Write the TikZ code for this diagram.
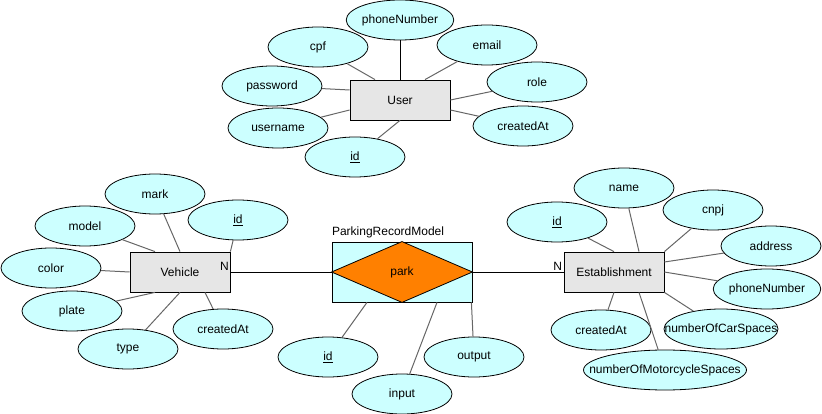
\documentclass[tikz,border=0pt]{standalone}
\usepackage{fontspec}
\setmainfont{Liberation Sans}
\usetikzlibrary{shapes.geometric}

\definecolor{attrfill}{HTML}{CCFFFF}
\definecolor{entfill}{HTML}{E6E6E6}
\definecolor{relfill}{HTML}{FF8000}
\definecolor{linkgray}{HTML}{666666}

\tikzset{
  attr/.style={ellipse, draw, fill=attrfill, minimum width=100pt, minimum height=40pt, inner sep=0pt},
  entity/.style={rectangle, draw, fill=entfill, minimum width=100pt, minimum height=40pt},
  link/.style={draw=linkgray, line width=1pt}
}

\begin{document}
\begin{tikzpicture}[x=1pt, y=-1pt, line width=0.8pt, font=\fontsize{12}{14}\selectfont]
                \useasboundingbox (0,0) rectangle (822,414);

                % User and its attributes
                \node[entity] (user) at (400,100) {User};
                \node[attr] (upn) at (400,20) {phoneNumber};
                \node[attr] (ucpf) at (318,47) {cpf};
                \node[attr] (uemail) at (487,45) {email};
                \node[attr] (upass) at (272,86) {password};
                \node[attr] (urole) at (537,82) {role};
                \node[attr] (uname) at (278,128) {username};
                \node[attr] (ucreated) at (523,126) {createdAt};
                \node[attr] (uid) at (355,157) {\underline{id}};

                \draw[line width=1pt] (upn) -- (user.north);
                \draw[link] (ucpf) -- ([xshift=-25pt]user.north);
                \draw[link] (uemail) -- ([xshift=25pt]user.north);
                \draw[link] (upass) -- ([yshift=10pt]user.west);
                \draw[link] (uname) -- ([yshift=-10pt]user.west);
                \draw[link] (uid) -- (user.south);
                \draw[link] (urole) -- (user.east);
                \draw[link] (ucreated) -- ([yshift=-10pt]user.east);

                % Vehicle and its attributes
                \node[entity] (veh) at (180,272) {Vehicle};
                \node[attr] (vmark) at (155,194) {mark};
                \node[attr] (vmodel) at (85,226) {model};
                \node[attr] (vid) at (238,220) {\underline{id}};
                \node[attr] (vcolor) at (51,268) {color};
                \node[attr] (vplate) at (72,311) {plate};
                \node[attr] (vtype) at (128,349) {type};
                \node[attr] (vcreated) at (223,329) {createdAt};

                \draw[link] (vmark) -- (veh.north);
                \draw[link] (vmodel) -- ([xshift=-25pt]veh.north);
                \draw[link] (vid) -- (veh.north east);
                \draw[link] (vcolor) -- (veh.west);
                \draw[link] (vplate) -- ([xshift=-25pt]veh.south);
                \draw[link] (vtype) -- (veh.south);
                \draw[link] (vcreated) -- ([xshift=25pt]veh.south);

                % Relationship park
                \node[draw, fill=attrfill, minimum width=140pt, minimum height=60pt] (prm) at (402,272) {};
                \draw[fill=relfill] (prm.west) -- (prm.north) -- (prm.east) -- (prm.south) -- cycle;
                \node (park) at (prm.center) {park};
                \node[anchor=south west, inner sep=0pt] (prmlabel) at ([yshift=3pt]prm.north west) {ParkingRecordModel};
                \node[attr] (pid) at (328,357) {\underline{id}};
                \node[attr] (pinput) at (402,394) {input};
                \node[attr] (poutput) at (474,357) {output};

                \draw[link] (pid) -- ([xshift=-35pt]prm.south);
                \draw[link] (pinput) -- ([xshift=35pt]prm.south);
                \draw[link] (poutput) -- ([xshift=-1pt]prm.south east);

                % Establishment and its attributes
                \node[entity] (est) at (614,272) {Establishment};
                \node[attr] (ename) at (624,188) {name};
                \node[attr] (eid) at (557,222) {\underline{id}};
                \node[attr] (ecnpj) at (713,210) {cnpj};
                \node[attr] (eaddr) at (771,246) {address};
                \node[attr] (epn) at (767,289) {phoneNumber};
                \node[attr] (ecreated) at (601,330) {createdAt};
                \node[attr, minimum width=114pt] (ecar) at (721,329) {\makebox[0pt]{numberOfCarSpaces}};
                \node[attr, minimum width=163pt] (emoto) at (665,370) {\makebox[0pt]{numberOfMotorcycleSpaces}};

                \draw[link] (eid) -- (est.north);
                \draw[link] (ename) -- ([xshift=25pt]est.north);
                \draw[link] (ecnpj) -- (est.north east);
                \draw[link] (eaddr) -- ([yshift=10pt]est.east);
                \draw[link] (epn) -- (est.east);
                \draw[link] (ecar) -- (est.south east);
                \draw[link] (ecreated) -- (est.south);
                \draw[link] (emoto) -- ([xshift=25pt]est.south);

                % Cardinalities
                \draw[line width=1pt] (veh) -- (prm.west) node[pos=0, anchor=south east, inner sep=1pt] {N};
                \draw[line width=1pt] (prm.east) -- (est) node[pos=1, anchor=south east, inner sep=1pt] {N};
            \end{tikzpicture}
\end{document}
